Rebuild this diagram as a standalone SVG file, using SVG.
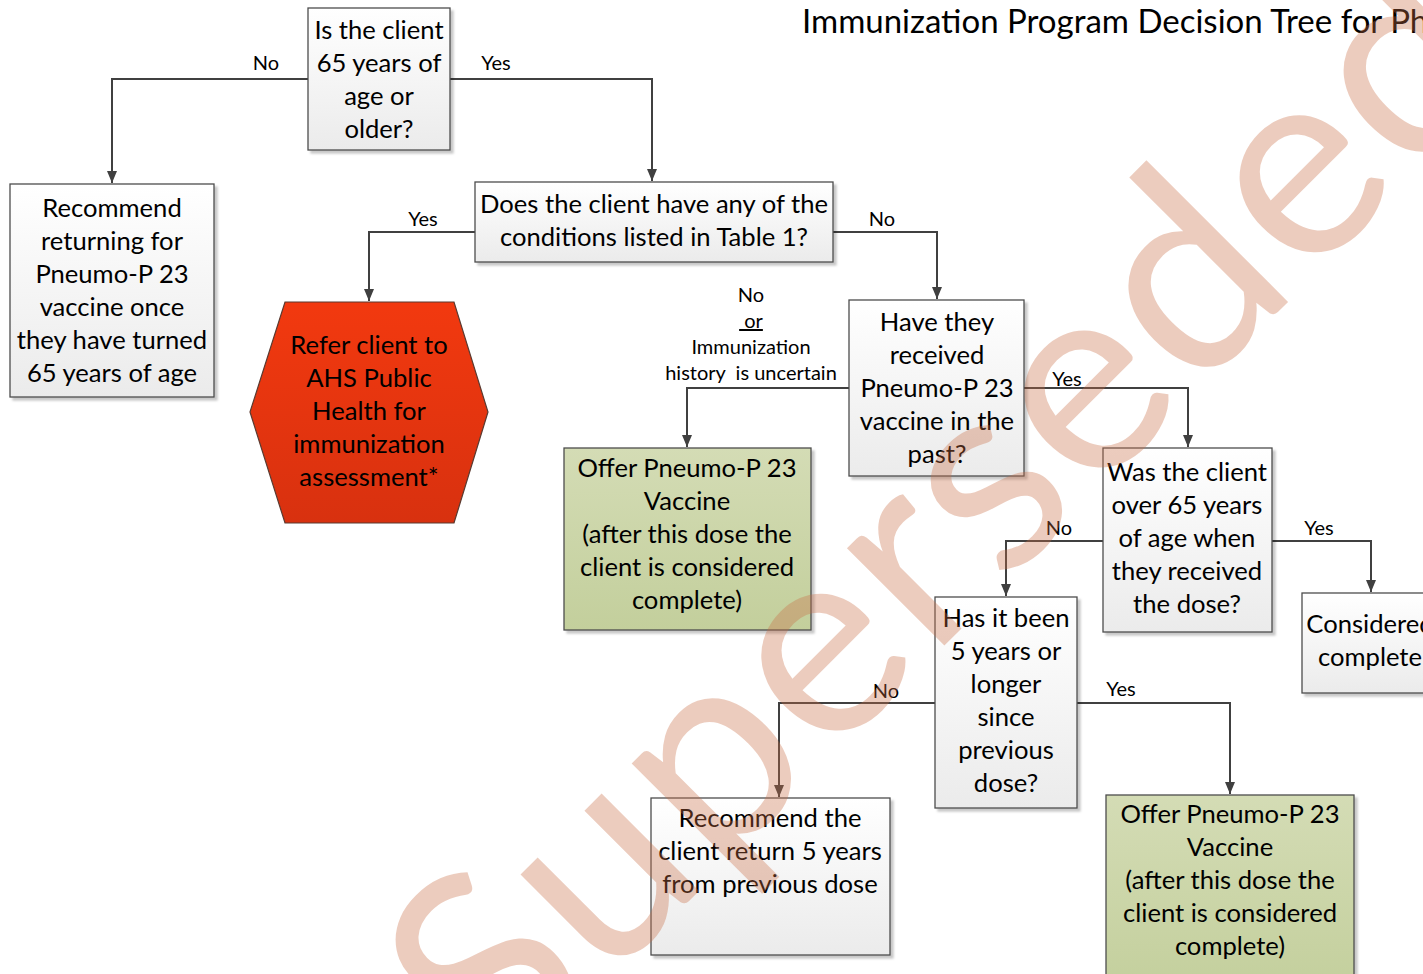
<svg xmlns="http://www.w3.org/2000/svg" width="1423" height="974" viewBox="0 0 1423 974">
<defs>
<style>
.box{fill:url(#gGray);stroke:#4d4d4d;stroke-width:1.3;filter:url(#sh)}
.green{fill:url(#gGreen);stroke:#4d4d4d;stroke-width:1.3;filter:url(#sh)}
.t{font-family:Lato,"Liberation Sans",sans-serif;font-size:25.6px;fill:#000;text-anchor:middle}
.lbl{font-family:Lato,"Liberation Sans",sans-serif;font-size:20px;fill:#000;text-anchor:middle}
.con{fill:none;stroke:#404040;stroke-width:2;marker-end:url(#arr)}
.wm{font-family:Lato,"Liberation Sans",sans-serif;font-size:272px;fill:rgb(200,110,70);fill-opacity:0.35}
</style>
<linearGradient id="gGray" x1="0" y1="0" x2="0" y2="1"><stop offset="0" stop-color="#ffffff"/><stop offset="1" stop-color="#ebebeb"/></linearGradient>
<linearGradient id="gGreen" x1="0" y1="0" x2="0" y2="1"><stop offset="0" stop-color="#d4dcb5"/><stop offset="1" stop-color="#c3cf9c"/></linearGradient>
<linearGradient id="gRed" x1="0" y1="0" x2="0" y2="1"><stop offset="0" stop-color="#f2390f"/><stop offset="1" stop-color="#d8310f"/></linearGradient>
<filter id="sh" x="-10%" y="-10%" width="120%" height="120%"><feDropShadow dx="3" dy="3" stdDeviation="1" flood-color="#000" flood-opacity="0.22"/></filter>
<marker id="arr" markerUnits="userSpaceOnUse" markerWidth="12" markerHeight="10" refX="12" refY="5" orient="auto"><path d="M0,0 L12,5 L0,10 z" fill="#404040"/></marker>
</defs>
<rect width="1423" height="974" fill="#fff"/>
<text x="802" y="33" font-family="Lato,'Liberation Sans',sans-serif" font-size="33" fill="#000">Immunization Program Decision Tree for Ph</text>

<g id="connectors">
<path class="con" d="M308,79 H112 V183"/>
<path class="con" d="M450,79 H652 V181"/>
<path class="con" d="M475,232 H369 V301"/>
<path class="con" d="M833,232 H937 V299"/>
<path class="con" d="M849,388 H687 V447"/>
<path class="con" d="M1024,388 H1188 V447"/>
<path class="con" d="M1103,541 H1006 V596"/>
<path class="con" d="M1272,541 H1371 V592"/>
<path class="con" d="M935,703 H779 V797"/>
<path class="con" d="M1077,703 H1230 V794"/>
<text class="lbl" x="266" y="70">No</text>
<text class="lbl" x="496" y="70">Yes</text>
<text class="lbl" x="423" y="226">Yes</text>
<text class="lbl" x="882" y="226">No</text>
<text class="lbl" x="1067" y="386">Yes</text>
<text class="lbl" x="1059" y="535">No</text>
<text class="lbl" x="1319" y="535">Yes</text>
<text class="lbl" x="886" y="698">No</text>
<text class="lbl" x="1121" y="696">Yes</text>
<text class="lbl" x="751" y="302">No</text>
<text class="lbl" x="751" y="328" xml:space="preserve" text-decoration="underline"> or</text>
<text class="lbl" x="751" y="354">Immunization</text>
<text class="lbl" x="751" y="380" xml:space="preserve">history  is uncertain</text>
</g>

<g id="n1">
<rect class="box" x="308" y="8" width="142" height="142"/>
<text class="t" x="379" y="39">Is the client</text>
<text class="t" x="379" y="72">65 years of</text>
<text class="t" x="379" y="105">age or</text>
<text class="t" x="379" y="138">older?</text>
</g>
<g id="n2">
<rect class="box" x="10" y="184" width="204" height="213"/>
<text class="t" x="112" y="217">Recommend</text>
<text class="t" x="112" y="250">returning for</text>
<text class="t" x="112" y="283">Pneumo-P 23</text>
<text class="t" x="112" y="316">vaccine once</text>
<text class="t" x="112" y="349">they have turned</text>
<text class="t" x="112" y="382">65 years of age</text>
</g>
<g id="n3">
<rect class="box" x="475" y="182" width="358" height="80"/>
<text class="t" x="654" y="213">Does the client have any of the</text>
<text class="t" x="654" y="246">conditions listed in Table 1?</text>
</g>
<g id="n4">
<polygon points="285,302 454,302 488,412 454,523 285,523 250,412" fill="url(#gRed)" stroke="#5a3a30" stroke-width="1.2"/>
<text class="t" x="369" y="354">Refer client to</text>
<text class="t" x="369" y="387">AHS Public</text>
<text class="t" x="369" y="420">Health for</text>
<text class="t" x="369" y="453">immunization</text>
<text class="t" x="369" y="486">assessment*</text>
</g>
<g id="n5">
<rect class="box" x="849" y="300" width="175" height="176"/>
<text class="t" x="937" y="331">Have they</text>
<text class="t" x="937" y="364">received</text>
<text class="t" x="937" y="397">Pneumo-P 23</text>
<text class="t" x="937" y="430">vaccine in the</text>
<text class="t" x="937" y="463">past?</text>
</g>
<g id="n6">
<rect class="green" x="564" y="448" width="247" height="182"/>
<text class="t" x="687" y="477">Offer Pneumo-P 23</text>
<text class="t" x="687" y="510">Vaccine</text>
<text class="t" x="687" y="543">(after this dose the</text>
<text class="t" x="687" y="576">client is considered</text>
<text class="t" x="687" y="609">complete)</text>
</g>
<g id="n7">
<rect class="box" x="1103" y="448" width="169" height="184"/>
<text class="t" x="1187" y="481">Was the client</text>
<text class="t" x="1187" y="514">over 65 years</text>
<text class="t" x="1187" y="547">of age when</text>
<text class="t" x="1187" y="580">they received</text>
<text class="t" x="1187" y="613">the dose?</text>
</g>
<g id="n8">
<rect class="box" x="1302" y="593" width="137" height="100"/>
<text class="t" x="1370" y="633">Considered</text>
<text class="t" x="1370" y="666">complete</text>
</g>
<g id="n9">
<rect class="box" x="935" y="597" width="142" height="211"/>
<text class="t" x="1006" y="627">Has it been</text>
<text class="t" x="1006" y="660">5 years or</text>
<text class="t" x="1006" y="693">longer</text>
<text class="t" x="1006" y="726">since</text>
<text class="t" x="1006" y="759">previous</text>
<text class="t" x="1006" y="792">dose?</text>
</g>
<g id="n10">
<rect class="box" x="651" y="798" width="239" height="157"/>
<text class="t" x="770" y="827">Recommend the</text>
<text class="t" x="770" y="860">client return 5 years</text>
<text class="t" x="770" y="893">from previous dose</text>
</g>
<g id="n11">
<rect class="green" x="1106" y="795" width="248" height="200"/>
<text class="t" x="1230" y="823">Offer Pneumo-P 23</text>
<text class="t" x="1230" y="856">Vaccine</text>
<text class="t" x="1230" y="889">(after this dose the</text>
<text class="t" x="1230" y="922">client is considered</text>
<text class="t" x="1230" y="955">complete)</text>
</g>

<text class="wm" transform="translate(500,1090) rotate(-45)" textLength="1438" lengthAdjust="spacing">Superseded</text>
</svg>
